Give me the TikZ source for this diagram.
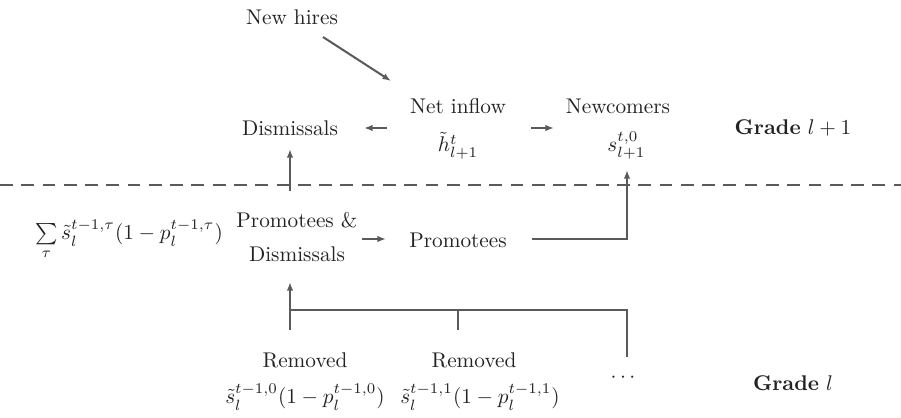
\documentclass[tikz,border=0pt]{standalone}
\usetikzlibrary{arrows.meta}
\definecolor{lc}{RGB}{90,90,90}
\definecolor{tc}{RGB}{35,35,35}
\begin{document}
\begin{tikzpicture}[x=0.47pt,y=-0.47pt,
  lbl/.style={text=tc,inner sep=1pt,align=center},
  flow/.style={draw=lc,line width=0.95pt,-{Latex[length=4pt,width=3pt]}},
  link/.style={draw=lc,line width=0.95pt},
  sep/.style={draw=lc,line width=0.5pt,dash pattern=on 6pt off 4pt}]
\useasboundingbox (0,0) rectangle (901,417);
% upper grade
\node[lbl] (hires) at (292,17) {New hires};
\node[lbl] (net) at (458,129) {Net inflow\\[6pt]$\tilde{h}^{t}_{l+1}$};
\node[lbl] (dis) at (290,128) {Dismissals};
\node[lbl] (newc) at (618,129) {Newcomers\\[6pt]\hspace*{8pt}$s^{t,0}_{l+1}$};
\node[lbl] (gup) at (793,128) {\textbf{Grade} $l+1$};
% separator
\coordinate (sl) at (0,185);
\coordinate (sr) at (901,185);
\draw[sep] (sl) -- (sr);
% lower grade
\node[lbl] (sum) at (129,240) {$\sum\limits_{\tau}\tilde{s}_l^{t-1,\tau}(1-p_l^{t-1,\tau})$};
\node[lbl,text width=70pt] (pd) at (297,237) {Promotees \&\\[4pt]Dismissals};
\node[lbl] (prom) at (458,240) {Promotees};
\node[lbl] (r0) at (305,360) {Removed};
\node[lbl] (r0m) at (305,397) {$\tilde{s}_l^{t-1,0}(1-p_l^{t-1,0})$};
\node[lbl] (r1) at (474,360) {Removed};
\node[lbl] (r1m) at (480,397) {$\tilde{s}_l^{t-1,1}(1-p_l^{t-1,1})$};
\node[lbl] (dots) at (623,378) {$\cdots$};
\node[lbl] (gdn) at (793,383) {\textbf{Grade} $l$};
% connector points
\coordinate (h1) at (323,37);
\coordinate (h2) at (391,81);
\coordinate (n1) at (387,128);
\coordinate (n2) at (364,128);
\coordinate (c1) at (531,128);
\coordinate (c2) at (554,128);
\coordinate (d1) at (290,191);
\coordinate (d2) at (290,149);
\coordinate (p1) at (362,239);
\coordinate (p2) at (386,239);
\coordinate (q1) at (532,239);
\coordinate (q2) at (627,239);
\coordinate (q3) at (627,170);
\coordinate (b0) at (290,330);
\coordinate (bt) at (290,282);
\coordinate (bj) at (290,310);
\coordinate (b1) at (458,330);
\coordinate (b1t) at (458,310);
\coordinate (b2) at (627,357);
\coordinate (b2t) at (627,310);
% connectors
\draw[flow] (h1) -- (h2);
\draw[flow] (n1) -- (n2);
\draw[flow] (c1) -- (c2);
\draw[flow] (d1) -- (d2);
\draw[flow] (p1) -- (p2);
\draw[flow] (q1) -- (q2) -- (q3);
\draw[flow] (b0) -- (bt);
\draw[link] (bj) -- (b2t) -- (b2);
\draw[link] (b1) -- (b1t);
\end{tikzpicture}
\end{document}
